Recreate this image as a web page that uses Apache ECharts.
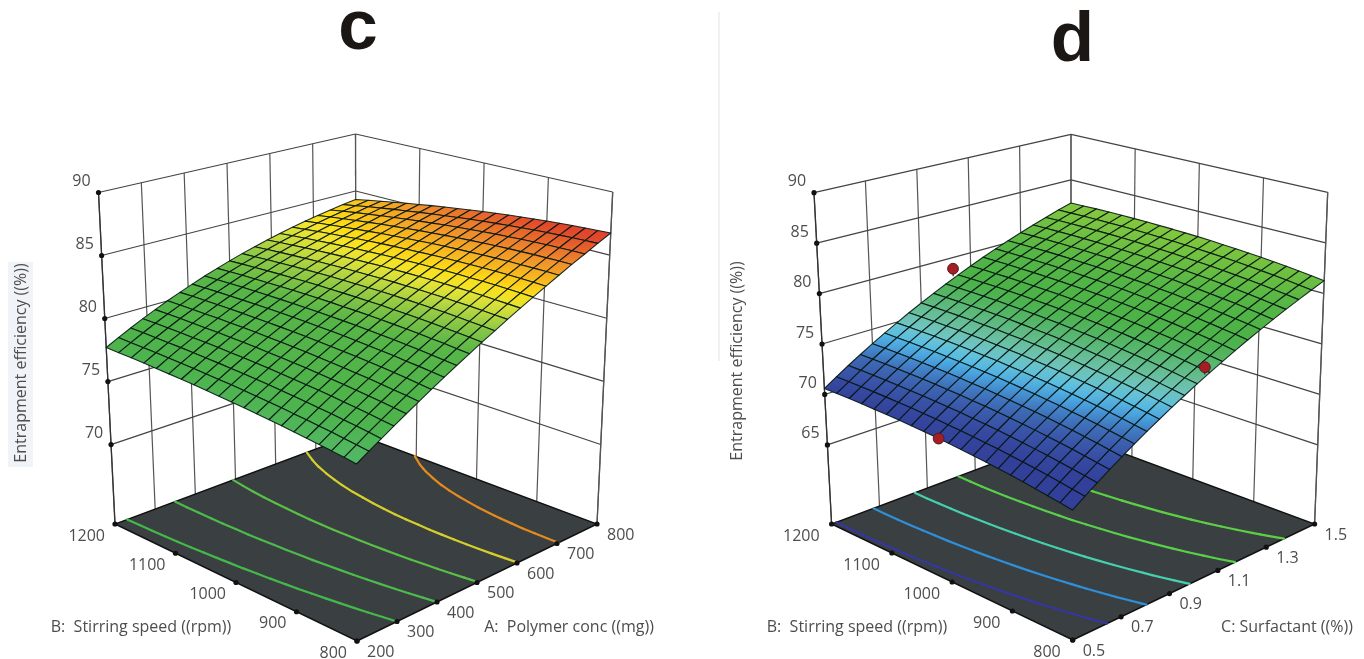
<!DOCTYPE html>
<html><head><meta charset="utf-8"><style>html,body{margin:0;background:#fff}#c{width:1364px;height:659px}</style>
<script src="https://cdn.jsdelivr.net/npm/echarts@6/dist/echarts.min.js"></script></head><body><div id="c"></div>
<script>
const polymerTicks=[200,300,400,500,600,700,800];
const surfactantTicks=[0.5,0.7,0.9,1.1,1.3,1.5];
const surfactantLabels=['0.5','0.7','0.9','1.1','1.3','1.5'];
const speedTicks=[800,900,1000,1100,1200];
const efficiencyTicksC=[70,75,80,85,90];
const efficiencyTicksD=[65,70,75,80,85,90];
const contourLevelsC=[78.2,80,81.8,83.5,85.2];
const contourColorsC=['#45B84A','#4CBB4C','#5ABF48','#D5CF2E','#E58A1F'];
const contourLevelsD=[70.9,73.2,75.55,77.8,80];
const contourColorsD=['#34389C','#2F8FD8','#45D0B0','#58D04A','#5CD044'];
const pointSurfactant=[1.03,0.5,1.03];
const pointSpeed=[1200,1016,800];
const pointEfficiency=[78.83,70.25,77.06];
const colorLevelsC=[76,77,78,81.3,82.3,83,83.5,83.9,84.5,85.3,86.5];
const colorHexC=['#56B96F','#50B65A','#4DB34B','#56B547','#8CC845','#C9DC3E','#F2E62E','#FFDE14','#F8B71F','#EE8A2C','#E0402A'];
const colorLevelsD=[68,70.5,71.7,72.9,73.6,74.1,74.9,75.7,76.5,77.3,78,80,82.5];
const colorHexD=['#33409A','#33409A','#3850A6','#3F6EB6','#4595D8','#4DB8EC','#6FC6CF','#6CC0A0','#5CB87C','#50B35A','#4BB247','#54B545','#84C83E'];
// rows: stirring speed 800..1200 in 20 steps; columns: A (or C) low..high in 20 steps
const surfaceC=[
[76.35,76.91,77.46,78.02,78.56,79.10,79.64,80.18,80.71,81.23,81.76,82.27,82.79,83.30,83.80,84.30,84.80,85.30,85.78,86.27,86.75],
[76.47,77.02,77.58,78.12,78.67,79.21,79.74,80.27,80.79,81.31,81.83,82.34,82.84,83.34,83.84,84.33,84.82,85.30,85.77,86.24,86.71],
[76.58,77.13,77.68,78.23,78.77,79.30,79.83,80.36,80.87,81.39,81.89,82.39,82.89,83.38,83.87,84.35,84.82,85.29,85.75,86.21,86.66],
[76.68,77.24,77.78,78.33,78.86,79.39,79.92,80.43,80.95,81.45,81.95,82.44,82.93,83.41,83.89,84.36,84.82,85.28,85.73,86.17,86.61],
[76.78,77.33,77.88,78.42,78.95,79.48,80.00,80.51,81.01,81.51,82.00,82.49,82.96,83.44,83.90,84.36,84.81,85.25,85.69,86.12,86.54],
[76.88,77.43,77.97,78.51,79.03,79.55,80.07,80.57,81.07,81.56,82.05,82.52,82.99,83.45,83.90,84.35,84.79,85.22,85.64,86.06,86.47],
[76.97,77.51,78.06,78.59,79.11,79.63,80.14,80.63,81.13,81.61,82.08,82.55,83.01,83.46,83.90,84.33,84.76,85.18,85.59,85.99,86.38],
[77.05,77.60,78.14,78.66,79.18,79.69,80.20,80.69,81.17,81.65,82.11,82.57,83.02,83.46,83.89,84.31,84.72,85.13,85.53,85.91,86.29],
[77.13,77.67,78.21,78.73,79.25,79.75,80.25,80.74,81.21,81.68,82.14,82.59,83.02,83.45,83.87,84.28,84.68,85.07,85.45,85.82,86.19],
[77.21,77.75,78.28,78.80,79.31,79.81,80.30,80.78,81.25,81.71,82.15,82.59,83.02,83.44,83.85,84.24,84.63,85.01,85.37,85.73,86.08],
[77.28,77.81,78.34,78.86,79.36,79.85,80.34,80.81,81.27,81.72,82.16,82.59,83.01,83.42,83.81,84.19,84.57,84.93,85.29,85.63,85.96],
[77.34,77.88,78.40,78.91,79.41,79.90,80.38,80.84,81.29,81.74,82.16,82.58,82.99,83.39,83.77,84.14,84.50,84.85,85.19,85.51,85.83],
[77.40,77.93,78.45,78.96,79.45,79.93,80.40,80.86,81.31,81.74,82.16,82.57,82.96,83.35,83.72,84.08,84.42,84.76,85.08,85.39,85.69],
[77.46,77.98,78.50,79.00,79.49,79.96,80.43,80.88,81.31,81.74,82.15,82.55,82.93,83.30,83.66,84.01,84.34,84.66,84.97,85.26,85.54],
[77.51,78.03,78.54,79.04,79.52,79.99,80.44,80.89,81.31,81.73,82.13,82.52,82.89,83.25,83.60,83.93,84.25,84.55,84.85,85.12,85.39],
[77.55,78.07,78.58,79.07,79.55,80.00,80.46,80.89,81.31,81.71,82.10,82.48,82.84,83.19,83.52,83.84,84.14,84.44,84.71,84.97,85.22],
[77.59,78.11,78.61,79.09,79.56,80.02,80.46,80.88,81.29,81.69,82.07,82.44,82.79,83.12,83.44,83.74,84.04,84.31,84.57,84.82,85.05],
[77.63,78.14,78.63,79.11,79.58,80.02,80.46,80.87,81.28,81.66,82.03,82.39,82.72,83.05,83.35,83.64,83.92,84.18,84.42,84.65,84.86],
[77.66,78.16,78.65,79.13,79.59,80.02,80.45,80.86,81.25,81.63,81.98,82.33,82.65,82.96,83.26,83.53,83.79,84.04,84.27,84.48,84.67],
[77.68,78.18,78.67,79.14,79.59,80.02,80.44,80.83,81.22,81.58,81.93,82.26,82.57,82.87,83.15,83.41,83.66,83.89,84.10,84.29,84.47],
[77.70,78.20,78.68,79.14,79.58,80.01,80.41,80.80,81.18,81.53,81.87,82.19,82.49,82.77,83.04,83.29,83.52,83.73,83.92,84.10,84.26]];
const surfaceD=[
[68.76,69.53,70.28,71.02,71.74,72.45,73.14,73.81,74.48,75.12,75.76,76.37,76.97,77.56,78.13,78.69,79.23,79.76,80.27,80.77,81.25],
[68.95,69.71,70.47,71.20,71.92,72.63,73.32,74.00,74.66,75.30,75.93,76.55,77.15,77.74,78.31,78.86,79.40,79.92,80.43,80.93,81.41],
[69.12,69.89,70.64,71.38,72.10,72.81,73.50,74.17,74.83,75.48,76.11,76.72,77.32,77.90,78.47,79.02,79.56,80.08,80.59,81.08,81.55],
[69.29,70.06,70.81,71.55,72.27,72.97,73.66,74.34,74.99,75.64,76.27,76.88,77.47,78.06,78.62,79.17,79.71,80.22,80.73,81.22,81.69],
[69.45,70.22,70.97,71.70,72.42,73.13,73.82,74.49,75.15,75.79,76.42,77.03,77.62,78.20,78.76,79.31,79.84,80.36,80.86,81.35,81.82],
[69.60,70.36,71.11,71.85,72.57,73.27,73.96,74.63,75.29,75.93,76.56,77.16,77.76,78.34,78.90,79.44,79.97,80.49,80.98,81.47,81.93],
[69.73,70.50,71.25,71.99,72.71,73.41,74.10,74.77,75.42,76.06,76.69,77.29,77.88,78.46,79.02,79.56,80.09,80.60,81.10,81.58,82.04],
[69.86,70.63,71.38,72.11,72.83,73.53,74.22,74.89,75.55,76.18,76.81,77.41,78.00,78.57,79.13,79.67,80.20,80.71,81.20,81.68,82.14],
[69.98,70.74,71.50,72.23,72.95,73.65,74.34,75.01,75.66,76.30,76.92,77.52,78.11,78.68,79.23,79.77,80.30,80.80,81.29,81.76,82.22],
[70.08,70.85,71.60,72.34,73.05,73.76,74.44,75.11,75.76,76.40,77.02,77.62,78.20,78.77,79.33,79.86,80.38,80.89,81.37,81.84,82.30],
[70.18,70.95,71.70,72.43,73.15,73.85,74.54,75.20,75.85,76.49,77.11,77.71,78.29,78.86,79.41,79.94,80.46,80.96,81.45,81.91,82.37],
[70.27,71.03,71.79,72.52,73.24,73.94,74.62,75.29,75.94,76.57,77.19,77.79,78.37,78.93,79.48,80.01,80.53,81.03,81.51,81.97,82.42],
[70.34,71.11,71.86,72.60,73.31,74.01,74.70,75.36,76.01,76.64,77.26,77.85,78.43,79.00,79.55,80.07,80.59,81.08,81.56,82.02,82.47],
[70.41,71.18,71.93,72.66,73.38,74.08,74.76,75.42,76.07,76.70,77.32,77.91,78.49,79.05,79.60,80.13,80.64,81.13,81.60,82.06,82.50],
[70.47,71.24,71.99,72.72,73.44,74.13,74.82,75.48,76.13,76.76,77.37,77.96,78.54,79.10,79.64,80.17,80.67,81.16,81.64,82.09,82.53],
[70.52,71.28,72.03,72.77,73.48,74.18,74.86,75.52,76.17,76.80,77.41,78.00,78.57,79.13,79.67,80.20,80.70,81.19,81.66,82.11,82.55],
[70.55,71.32,72.07,72.80,73.52,74.22,74.90,75.56,76.20,76.83,77.44,78.03,78.60,79.16,79.70,80.22,80.72,81.20,81.67,82.12,82.55],
[70.58,71.35,72.10,72.83,73.55,74.24,74.92,75.58,76.22,76.85,77.46,78.05,78.62,79.17,79.71,80.23,80.73,81.21,81.68,82.12,82.55],
[70.60,71.36,72.11,72.85,73.56,74.26,74.94,75.59,76.24,76.86,77.47,78.06,78.62,79.18,79.71,80.23,80.73,81.20,81.67,82.11,82.54],
[70.60,71.37,72.12,72.85,73.57,74.26,74.94,75.60,76.24,76.86,77.47,78.05,78.62,79.17,79.70,80.22,80.71,81.19,81.65,82.09,82.51],
[70.60,71.37,72.12,72.85,73.56,74.26,74.93,75.59,76.23,76.85,77.46,78.04,78.61,79.16,79.69,80.20,80.69,81.17,81.62,82.06,82.48]];

const TEXT='#4d4d4d', FONT='"Open Sans"';
const panels=[
 {surface:surfaceC,aTicks:polymerTicks,aLabels:polymerTicks.map(String),zTicks:efficiencyTicksC,levels:contourLevelsC,levelColors:contourColorsC,
  colorLevels:colorLevelsC,colorHex:colorHexC,zFloor:63.7,zTop:90,
  F:[357,641],R:[597,524],L:[115,524],B:[356,434],TF:[356,273],TR:[612.7,192],TL:[98.5,192.5],TB:[355.5,134],
  bOff:-10,aOff:10},
 {surface:surfaceD,aTicks:surfactantTicks,aLabels:surfactantLabels,zTicks:efficiencyTicksD,levels:contourLevelsD,levelColors:contourColorsD,
  colorLevels:colorLevelsD,colorHex:colorHexD,zFloor:57.16,zTop:90,
  F:[1072.7,640],R:[1314.6,524],L:[831.6,524],B:[1071,434],TF:[1072,272],TR:[1327.7,192.3],TL:[814,192.7],TB:[1071,134.3],
  bOff:-12,aOff:10}];

const hexRgb=h=>[1,3,5].map(i=>parseInt(h.substr(i,2),16));
function colorOf(p,z){
  const L=p.colorLevels,H=p.colorHex;
  if(z<=L[0])return H[0];
  for(let i=1;i<L.length;i++){ if(z<=L[i]){
    const t=(z-L[i-1])/(L[i]-L[i-1]),a=hexRgb(H[i-1]),b=hexRgb(H[i]);
    return 'rgb('+a.map((v,k)=>Math.round(v+(b[k]-v)*t)).join(',')+')'; } }
  return H[H.length-1];
}
function mix(f,r,l,b,a,q){return [0,1].map(k=>f[k]*(1-a)*(1-q)+r[k]*a*(1-q)+l[k]*(1-a)*q+b[k]*a*q);}
function proj(p,a,q,z){
  const w=(z-p.zFloor)/(p.zTop-p.zFloor),lo=mix(p.F,p.R,p.L,p.B,a,q),hi=mix(p.TF,p.TR,p.TL,p.TB,a,q);
  return [lo[0]+(hi[0]-lo[0])*w,lo[1]+(hi[1]-lo[1])*w];
}
const frac=(t,v)=>(v-t[0])/(t[t.length-1]-t[0]);
const line=(c,u,v,stroke,lw,cap)=>({type:'line',shape:{x1:c(u)[0],y1:c(u)[1],x2:c(v)[0],y2:c(v)[1]},style:{stroke,lineWidth:lw,lineCap:cap||'butt'},silent:true});
const dot=(c,u,r)=>({type:'circle',shape:{cx:c(u)[0],cy:c(u)[1],r:r||2.6},style:{fill:'#111'},silent:true});
const label=(c,u,dx,dy,text,align)=>({type:'text',x:c(u)[0]+dx,y:c(u)[1]+dy,style:{text,fill:TEXT,fontFamily:FONT,fontSize:16,textAlign:align,textVerticalAlign:'middle'},silent:true});

function layer(items,draw){
  return {type:'custom',coordinateSystem:'cartesian2d',silent:true,animation:false,clip:false,
    data:items.map((_,i)=>[i,0]),
    renderItem:(params,api)=>draw(items[params.dataIndex],pt=>api.coord(pt),params.dataIndex)};
}
function wallLayer(p){
  return layer([p],(p,c)=>{
    const ch=[];
    p.aTicks.forEach(v=>{const a=frac(p.aTicks,v);ch.push(line(c,proj(p,a,1,p.zFloor),proj(p,a,1,p.zTop),'#555',1.2));});
    speedTicks.forEach(v=>{const q=frac(speedTicks,v);ch.push(line(c,proj(p,1,q,p.zFloor),proj(p,1,q,p.zTop),'#555',1.2));});
    p.zTicks.forEach(z=>{
      ch.push(line(c,proj(p,0,1,z),proj(p,1,1,z),'#444',1.2));
      ch.push(line(c,proj(p,1,1,z),proj(p,1,0,z),'#444',1.2));
    });
    ch.push(line(c,proj(p,0,1,p.zFloor),proj(p,0,1,p.zTop),'#333',1.3));
    ch.push(line(c,proj(p,1,0,p.zFloor),proj(p,1,0,p.zTop),'#555',1.3));
    return {type:'group',children:ch};
  });
}
function floorLayer(p){
  return layer([p],(p,c)=>{
    const pts=[[0,0],[1,0],[1,1],[0,1]].map(k=>c(proj(p,k[0],k[1],p.zFloor)));
    return {type:'polygon',shape:{points:pts},style:{fill:'#3A3F41',stroke:'#111',lineWidth:1.4},silent:true};
  });
}
function contourLayer(p){
  return layer(p.levels,(lev,c,idx)=>{
    const S=p.surface,n=S.length-1,m=S[0].length-1,ch=[],col=p.levelColors[idx];
    const differs=(u,v)=>(u>=lev)!==(v>=lev);
    const cross=(a1,q1,z1,a2,q2,z2)=>{const t=(lev-z1)/(z2-z1);return [a1+(a2-a1)*t,q1+(q2-q1)*t];};
    for(let i=0;i<n;i++)for(let j=0;j<m;j++){
      const a0=j/m,a1=(j+1)/m,q0=i/n,q1=(i+1)/n,z00=S[i][j],z10=S[i][j+1],z01=S[i+1][j],z11=S[i+1][j+1],hits=[];
      if(differs(z00,z10))hits.push(cross(a0,q0,z00,a1,q0,z10));
      if(differs(z10,z11))hits.push(cross(a1,q0,z10,a1,q1,z11));
      if(differs(z11,z01))hits.push(cross(a1,q1,z11,a0,q1,z01));
      if(differs(z01,z00))hits.push(cross(a0,q1,z01,a0,q0,z00));
      if(hits.length>=2)ch.push(line(c,proj(p,hits[0][0],hits[0][1],p.zFloor),proj(p,hits[1][0],hits[1][1],p.zFloor),col,2.2,'round'));
    }
    return {type:'group',children:ch};
  });
}
function surfaceLayer(p){
  const S=p.surface,cells=[];
  for(let i=S.length-2;i>=0;i--)for(let j=S[0].length-2;j>=0;j--)cells.push([i,j]);
  const n=S.length-1,m=S[0].length-1;
  return layer(cells,(cell,c)=>{
    const i=cell[0],j=cell[1];
    const pts=[[j,i],[j+1,i],[j+1,i+1],[j,i+1]].map(k=>c(proj(p,k[0]/m,k[1]/n,S[k[1]][k[0]])));
    return {type:'polygon',shape:{points:pts},silent:true,style:{
      fill:{type:'linear',x:0,y:0,x2:0,y2:1,global:false,colorStops:[{offset:0,color:colorOf(p,S[i+1][j+1])},{offset:1,color:colorOf(p,S[i][j])}]},
      stroke:'rgba(5,22,18,0.9)',lineWidth:1.1,lineJoin:'round'}};
  });
}
function tickLayer(p){
  return layer([p],(p,c)=>{
    const ch=[];
    p.zTicks.forEach(z=>{const u=proj(p,0,1,z);ch.push(dot(c,u));ch.push(label(c,u,-17,-11,String(z),'center'));});
    speedTicks.forEach(v=>{const u=proj(p,0,frac(speedTicks,v),p.zFloor);ch.push(dot(c,u));ch.push(label(c,u,p.bOff,12,String(v),'right'));});
    p.aTicks.forEach((v,k)=>{const u=proj(p,frac(p.aTicks,v),0,p.zFloor);ch.push(dot(c,u));ch.push(label(c,u,p.aOff,11,p.aLabels[k],'left'));});
    return {type:'group',children:ch};
  });
}
function pointLayer(p){
  return layer(pointEfficiency.map((z,i)=>i),(i,c)=>{
    const a=frac(p.aTicks,pointSurfactant[i]),q=frac(speedTicks,pointSpeed[i]),z=pointEfficiency[i];
    const S=p.surface,base=S[Math.round(q*(S.length-1))][Math.round(a*(S[0].length-1))];
    const u=c(proj(p,a,q,z)),ch=[];
    if(z>base)ch.push(line(c,proj(p,a,q,z),proj(p,a,q,base),'#222',1.2));
    ch.push({type:'circle',shape:{cx:u[0],cy:u[1],r:5.4},style:{fill:'#A31F24',stroke:'#5A1A1A',lineWidth:1},silent:true});
    return {type:'group',children:ch};
  });
}
const series=[];
panels.forEach((p,k)=>{
  series.push(wallLayer(p),floorLayer(p),contourLayer(p),surfaceLayer(p),tickLayer(p));
  if(k===1)series.push(pointLayer(p));
});
const gText=(x,y,text,size,extra)=>Object.assign({type:'text',x,y,silent:true,style:Object.assign({text,fill:TEXT,fontFamily:FONT,fontSize:size,textAlign:'center',textVerticalAlign:'middle'},extra||{})});
const yTitle='Entrapment efficiency ((%))';
const chart=echarts.init(document.getElementById('c'),null,{renderer:'canvas'});
chart.setOption({
  animation:false,backgroundColor:'#fff',
  grid:{left:0,right:0,top:0,bottom:0},
  xAxis:{type:'value',min:0,max:1364,show:false},
  yAxis:{type:'value',min:0,max:659,inverse:true,show:false},
  graphic:[
    {type:'rect',shape:{x:8,y:262,width:25,height:205},style:{fill:'#F0F3F8'},silent:true},
    {type:'line',shape:{x1:719,y1:12,x2:719,y2:361},style:{stroke:'#E2E2E2',lineWidth:1},silent:true},
    gText(358,29.5,'c',71,{fill:'#1A1714',fontFamily:'"Liberation Sans"',fontWeight:'bold'}),
    gText(1072.5,41.5,'d',71,{fill:'#1A1714',fontFamily:'"Liberation Sans"',fontWeight:'bold'}),
    Object.assign(gText(21,363,yTitle,16),{rotation:Math.PI/2}),
    Object.assign(gText(737,361,yTitle,16),{rotation:Math.PI/2}),
    gText(141,627,'B:  Stirring speed ((rpm))',16),
    gText(569,627,'A:  Polymer conc ((mg))',16),
    gText(857,627,'B:  Stirring speed ((rpm))',16),
    gText(1287,627,'C: Surfactant ((%))',16)
  ],
  series
});
</script></body></html>
